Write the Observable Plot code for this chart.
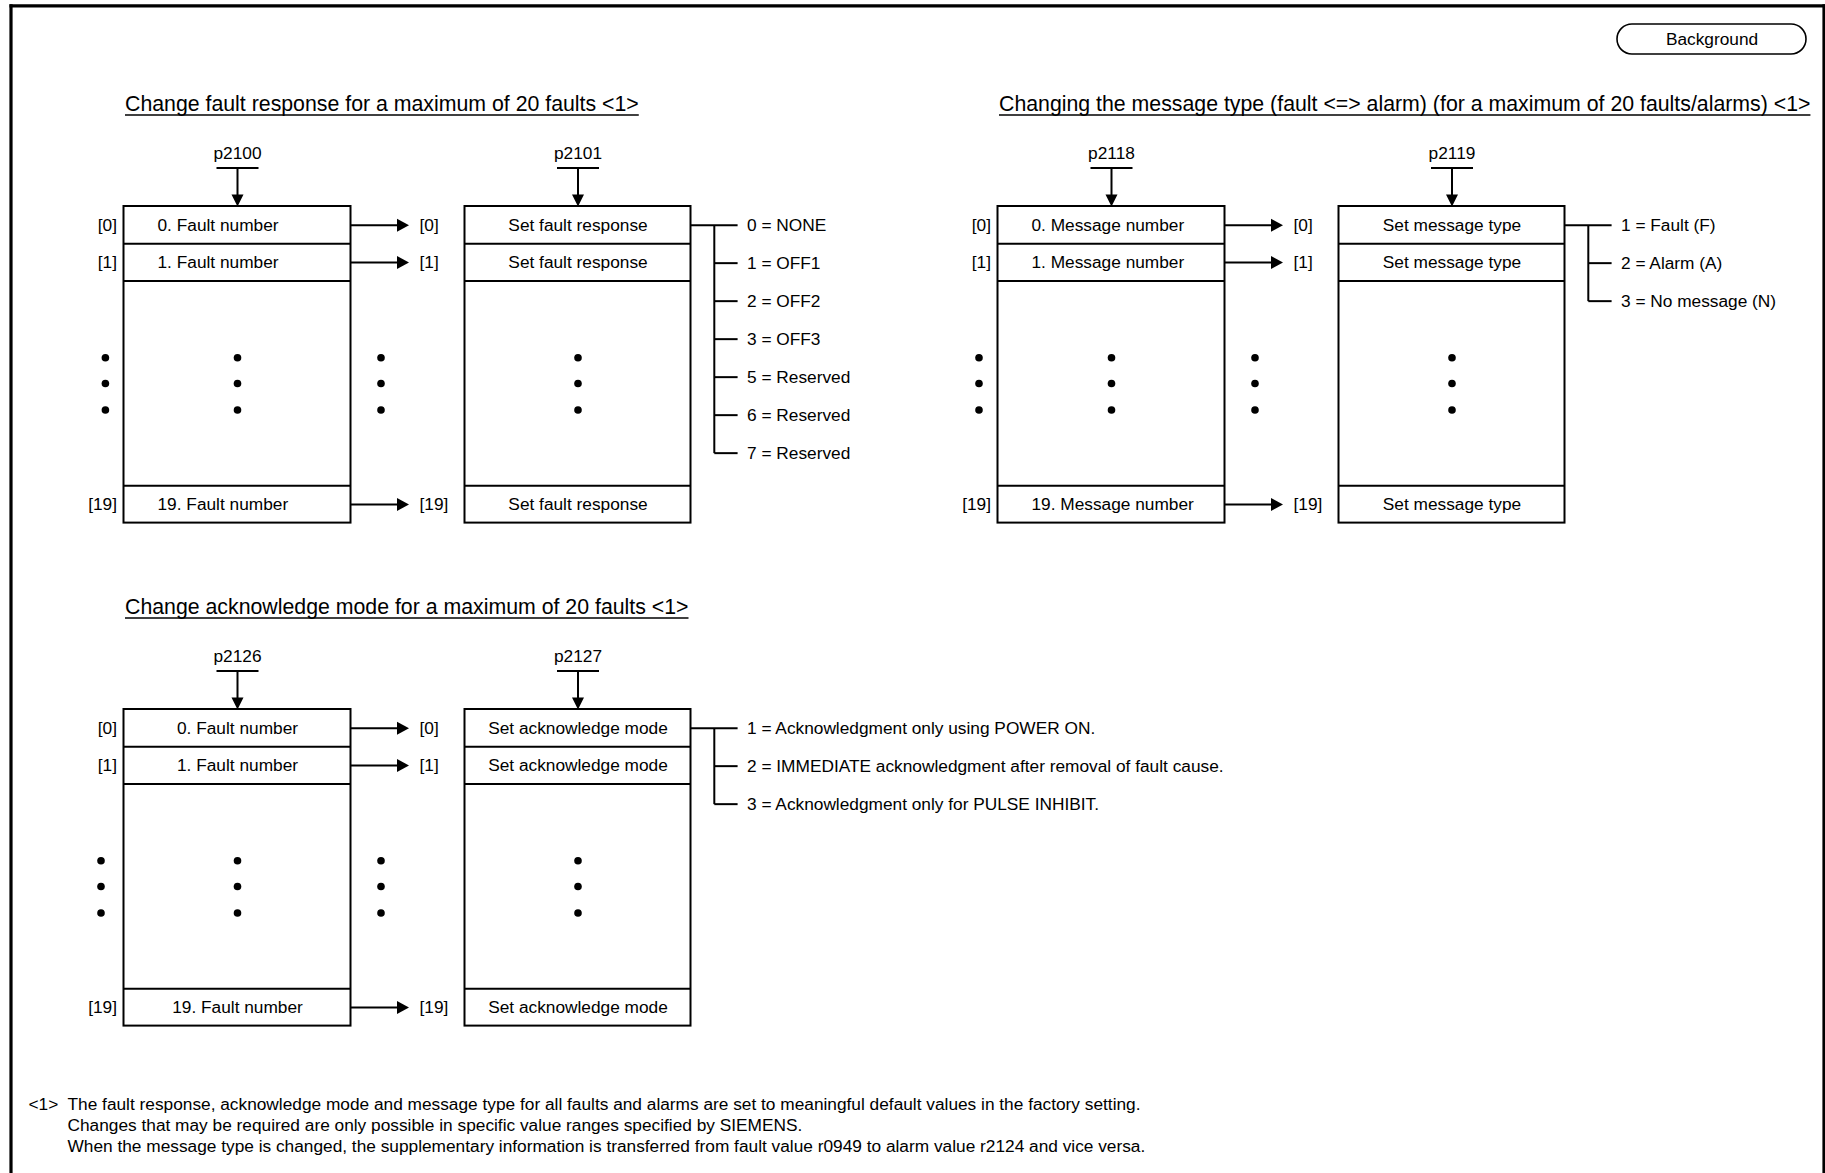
<!DOCTYPE html>
<html><head><meta charset="utf-8">
<script src="https://cdn.jsdelivr.net/npm/d3@7"></script>
<script src="https://cdn.jsdelivr.net/npm/@observablehq/plot@0.6"></script>
<style>
html,body{margin:0;padding:0;background:#fff;}
#chart svg{display:block}
</style>
</head><body><div id="chart"></div>
<script>
// ---------------- data ----------------
const sectionTitles = [
  "Change fault response for a maximum of 20 faults <1>",
  "Changing the message type (fault <=> alarm) (for a maximum of 20 faults/alarms) <1>",
  "Change acknowledge mode for a maximum of 20 faults <1>"
];
const sourceParams = ["p2100", "p2118", "p2126"];
const targetParams = ["p2101", "p2119", "p2127"];
const sourceItems = ["Fault number", "Message number", "Fault number"];
const targetItems = ["Set fault response", "Set message type", "Set acknowledge mode"];
const rowIndices = [0, 1, 19];
const faultResponseOptions = ["0 = NONE", "1 = OFF1", "2 = OFF2", "3 = OFF3", "5 = Reserved", "6 = Reserved", "7 = Reserved"];
const messageTypeOptions = ["1 = Fault (F)", "2 = Alarm (A)", "3 = No message (N)"];
const acknowledgeOptions = [
  "1 = Acknowledgment only using POWER ON.",
  "2 = IMMEDIATE acknowledgment after removal of fault cause.",
  "3 = Acknowledgment only for PULSE INHIBIT."
];
const sectionOptions = [faultResponseOptions, messageTypeOptions, acknowledgeOptions];
const footnoteMarker = "<1>";
const footnoteLines = [
  "The fault response, acknowledge mode and message type for all faults and alarms are set to meaningful default values in the factory setting.",
  "Changes that may be required are only possible in specific value ranges specified by SIEMENS.",
  "When the message type is changed, the supplementary information is transferred from fault value r0949 to alarm value r2124 and vice versa."
];
const buttonLabel = "Background";

// ---------------- layout ----------------
const W = 1825, H = 1173;
const FONT = "'Liberation Sans', Arial, Helvetica, sans-serif";
const FS = 17.3, TITLE_FS = 21.3;
const sectionOrigins = [[123.5, 206], [997.5, 206], [123.5, 709]];
const sourceAlign = ["start", "start", "middle"];
const leftDotOffset = [-18.6, -19, -23];
const BOX_W = 227, BOX2_DX = 341, BOX2_W = 226, ROW_H = 37.3, BOX_H = 316.6;
const ARROW_LEN = 58, OPT_STEP = 38;
const LW = 2;

const rects = [], links = [], headsDown = [], headsRight = [], dots = [];
const tStart = [], tMiddle = [], tEnd = [], titles = [];

const ctx = document.createElement("canvas").getContext("2d");
ctx.font = `${TITLE_FS}px ${FONT}`;

sectionOrigins.forEach(([ox, oy], s) => {
  const b1r = ox + BOX_W, b2l = ox + BOX2_DX, b2r = b2l + BOX2_W;
  const c1 = ox + BOX_W / 2, c2 = b2l + BOX2_W / 2;
  // boxes
  rects.push({x1: ox, x2: b1r, y1: oy, y2: oy + BOX_H});
  rects.push({x1: b2l, x2: b2r, y1: oy, y2: oy + BOX_H});
  const dividers = [oy + ROW_H, oy + 2 * ROW_H, oy + BOX_H - ROW_H];
  for (const dy of dividers) {
    links.push({x1: ox, x2: b1r, y1: dy, y2: dy});
    links.push({x1: b2l, x2: b2r, y1: dy, y2: dy});
  }
  // title with underline
  const tw = ctx.measureText(sectionTitles[s]).width;
  titles.push({x: ox + 1, y: oy - 102, text: sectionTitles[s]});
  links.push({x1: ox + 1, x2: ox + 1 + tw, y1: oy - 91.5, y2: oy - 91.5, w: 1.3});
  // parameters with arrows
  [[c1, sourceParams[s]], [c2, targetParams[s]]].forEach(([cx, p]) => {
    tMiddle.push({x: cx, y: oy - 53.5, text: p});
    links.push({x1: cx - 21, x2: cx + 21, y1: oy - 38.4, y2: oy - 38.4});
    links.push({x1: cx, x2: cx, y1: oy - 38.4, y2: oy - 8});
    headsDown.push({x: cx, y: oy});
  });
  // rows
  const rowY = [oy + ROW_H / 2, oy + ROW_H * 1.5, oy + BOX_H - ROW_H / 2];
  rowIndices.forEach((idx, r) => {
    const y = rowY[r];
    const label = `${idx}. ${sourceItems[s]}`;
    if (sourceAlign[s] === "start") tStart.push({x: ox + 33.5, y, text: label});
    else tMiddle.push({x: c1, y, text: label});
    tMiddle.push({x: c2, y, text: targetItems[s]});
    tEnd.push({x: ox - 7, y, text: `[${idx}]`});
    tStart.push({x: b1r + 68.5, y, text: `[${idx}]`});
    links.push({x1: b1r, x2: b1r + ARROW_LEN - 8, y1: y, y2: y});
    headsRight.push({x: b1r + ARROW_LEN, y});
  });
  // ellipsis dots
  [151.3, 177, 203.5].forEach(dy => {
    [ox + leftDotOffset[s], c1, ox + 257, c2].forEach(x => dots.push({x, y: oy + dy}));
  });
  // option tree
  const opts = sectionOptions[s];
  const optY = opts.map((_, i) => oy + ROW_H / 2 + i * OPT_STEP);
  const vx = b2r + 23.3, bx = b2r + 46.6;
  links.push({x1: b2r, x2: bx, y1: optY[0], y2: optY[0]});
  links.push({x1: vx, x2: vx, y1: optY[0], y2: optY[opts.length - 1]});
  opts.forEach((o, i) => {
    if (i > 0) links.push({x1: vx, x2: bx, y1: optY[i], y2: optY[i]});
    tStart.push({x: b2r + 56, y: optY[i], text: o});
  });
});

// footnote
tStart.push({x: 28, y: 1104, text: footnoteMarker});
footnoteLines.forEach((t, i) => tStart.push({x: 67, y: 1104 + i * 21, text: t}));

// button
const button = [{x1: 1617, x2: 1806, y1: 24, y2: 54}];
tMiddle.push({x: 1711.5, y: 39, text: buttonLabel});

// page frame
const frame = [
  {x1: 9, x2: 1825, y1: 5.3, y2: 5.3},
  {x1: 10.5, x2: 10.5, y1: 3.8, y2: 1180},
  {x1: 1823.5, x2: 1823.5, y1: 3.8, y2: 1180}
];

// arrowhead symbols (tip at the anchor point)
const arrowDown = {draw(c) { c.moveTo(0, 0); c.lineTo(-6, -12); c.lineTo(6, -12); c.closePath(); }};
const arrowRight = {draw(c) { c.moveTo(0, 0); c.lineTo(-12, -6.5); c.lineTo(-12, 6.5); c.closePath(); }};

const chart = Plot.plot({
  width: W, height: H,
  margin: 0,
  x: {domain: [0, W], range: [0, W], axis: null},
  y: {domain: [0, H], range: [0, H], axis: null},
  style: {fontFamily: FONT, background: "#fff", color: "#000"},
  marks: [
    Plot.link(frame, {x1: "x1", x2: "x2", y1: "y1", y2: "y2", stroke: "#000", strokeWidth: 3.2}),
    Plot.rect(button, {x1: "x1", x2: "x2", y1: "y1", y2: "y2", rx: 15, fill: "none", stroke: "#000", strokeWidth: 1.6}),
    Plot.rect(rects, {x1: "x1", x2: "x2", y1: "y1", y2: "y2", fill: "none", stroke: "#000", strokeWidth: LW}),
    Plot.link(links.filter(d => !d.w), {x1: "x1", x2: "x2", y1: "y1", y2: "y2", stroke: "#000", strokeWidth: LW}),
    Plot.link(links.filter(d => d.w), {x1: "x1", x2: "x2", y1: "y1", y2: "y2", stroke: "#000", strokeWidth: 1.3}),
    Plot.dot(headsDown, {x: "x", y: "y", symbol: arrowDown, r: 5, fill: "#000", stroke: "none"}),
    Plot.dot(headsRight, {x: "x", y: "y", symbol: arrowRight, r: 5, fill: "#000", stroke: "none"}),
    Plot.dot(dots, {x: "x", y: "y", r: 3.8, fill: "#000", stroke: "none"}),
    Plot.text(titles, {x: "x", y: "y", text: "text", textAnchor: "start", fontSize: TITLE_FS, fill: "#000"}),
    Plot.text(tStart, {x: "x", y: "y", text: "text", textAnchor: "start", fontSize: FS, fill: "#000"}),
    Plot.text(tMiddle, {x: "x", y: "y", text: "text", textAnchor: "middle", fontSize: FS, fill: "#000"}),
    Plot.text(tEnd, {x: "x", y: "y", text: "text", textAnchor: "end", fontSize: FS, fill: "#000"})
  ]
});
document.getElementById("chart").appendChild(chart);
</script>
</body></html>
